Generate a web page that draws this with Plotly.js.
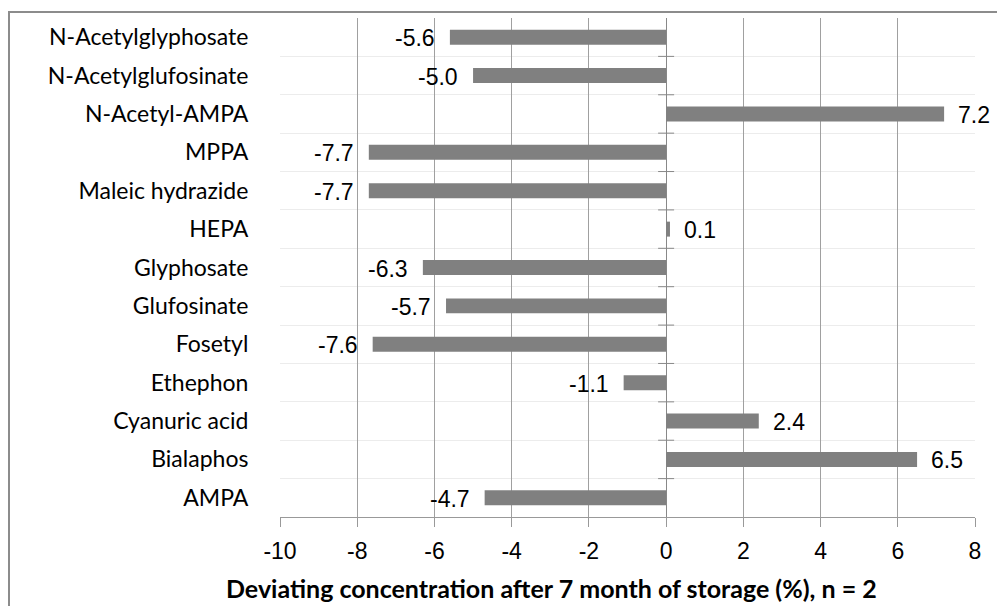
<!DOCTYPE html>
<html><head><meta charset="utf-8">
<script src="https://cdn.plot.ly/plotly-3.0.1.min.js"></script>
<style>
html,body{margin:0;padding:0;background:#fff;overflow:hidden}
#wrap{position:relative;width:997px;height:606px}
#chart{position:absolute;left:0;top:0;width:997px;height:606px}
#frame{position:absolute;left:8px;top:11px;width:1000px;height:700px;border:2px solid #8c8c8c;pointer-events:none;box-sizing:border-box}
</style></head>
<body><div id="wrap"><div id="chart"></div><div id="frame"></div></div>
<script>
// bottom to top
const categories = ["AMPA","Bialaphos","Cyanuric acid","Ethephon","Fosetyl","Glufosinate","Glyphosate","HEPA","Maleic hydrazide","MPPA","N-Acetyl-AMPA","N-Acetylglufosinate","N-Acetylglyphosate"];
const values = [-4.7, 6.5, 2.4, -1.1, -7.6, -5.7, -6.3, 0.1, -7.7, -7.7, 7.2, -5.0, -5.6];
const xTickVals = [-10,-8,-6,-4,-2,0,2,4,6,8];

const idx = categories.map((c,i)=>i);
const labels = values.map(v=>v.toFixed(1));

const trace = {
  type:'bar', orientation:'h', x: values, y: idx, width:0.39,
  marker:{color:'#808080'}, hoverinfo:'skip'
};

const annotations = values.map((v,i)=>({
  x: v, y: i, xref:'x', yref:'y', text: labels[i], showarrow:false,
  xanchor: v>=0 ? 'left':'right', xshift: v>=0 ? 12 : -13, yshift:-1,
  font:{family:'Liberation Sans, Arial, sans-serif', size:23, color:'#000'}
}));
annotations.push({
  xref:'paper', yref:'paper', x:0.391, y:0, yshift:-71, xanchor:'center', yanchor:'middle', showarrow:false,
  text:'<b>Deviating concentration after 7 month of storage (%), n = 2</b>',
  font:{family:'Lato, sans-serif', size:25, color:'#000'}
});

const shapes = categories.slice(1).map((c,i)=>({
  type:'line', xref:'x', yref:'y', xsizemode:'pixel', xanchor:0, x0:-8, x1:8,
  y0:i+0.5, y1:i+0.5, line:{color:'#888', width:1}
}));

const layout = {
  width:997, height:606,
  margin:{l:280, r:22, t:18, b:89},
  paper_bgcolor:'rgba(0,0,0,0)', plot_bgcolor:'#fff',
  showlegend:false,
  xaxis:{
    range:[-10,8], tickvals:xTickVals, ticktext:xTickVals.map(String),
    showgrid:true, gridcolor:'#a0a0a0', gridwidth:1,
    zeroline:true, zerolinecolor:'#888', zerolinewidth:1,
    showline:true, linecolor:'#999', linewidth:1,
    ticks:'outside', ticklen:9, tickcolor:'#999', ticklabelstandoff:4,
    tickfont:{family:'Liberation Sans, Arial, sans-serif', size:23, color:'#000'},
    fixedrange:true
  },
  yaxis:{
    range:[-0.5, categories.length-0.5], tickvals:idx, ticktext:categories,
    showgrid:false, zeroline:false, showline:false,
    ticks:'outside', ticklen:26, tickcolor:'rgba(0,0,0,0)',
    tickfont:{family:'Lato, sans-serif', size:23, color:'#000'},
    minor:{tick0:0.5, dtick:1, showgrid:true, gridcolor:'#ececec', gridwidth:1, ticks:''},
    fixedrange:true
  },
  shapes: shapes,
  annotations: annotations
};

Plotly.newPlot('chart',[trace],layout,{displayModeBar:false, staticPlot:true});
</script></body></html>
